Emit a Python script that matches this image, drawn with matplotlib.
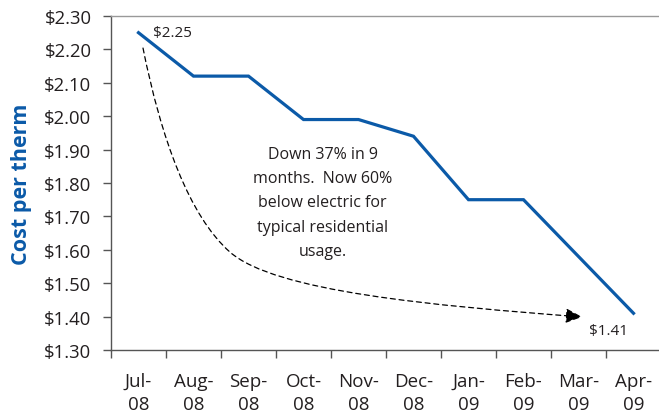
import matplotlib
matplotlib.use("Agg")
import matplotlib.pyplot as plt
from matplotlib.patches import FancyArrowPatch
from matplotlib.path import Path

months = ["Jul-\n08", "Aug-\n08", "Sep-\n08", "Oct-\n08", "Nov-\n08",
          "Dec-\n08", "Jan-\n09", "Feb-\n09", "Mar-\n09", "Apr-\n09"]
cost = [2.25, 2.12, 2.12, 1.99, 1.99, 1.94, 1.75, 1.75, 1.58, 1.41]
yticks = [1.30, 1.40, 1.50, 1.60, 1.70, 1.80, 1.90, 2.00, 2.10, 2.20, 2.30]
note = "Down 37% in 9\nmonths.  Now 60%\nbelow electric for\ntypical residential\nusage."

plt.rcParams['font.family'] = ['Open Sans', 'DejaVu Sans']
W, H = 659, 414
fig = plt.figure(figsize=(W/100, H/100), dpi=100)
ax = fig.add_axes([111/W, 1-351/H, 550/W, 334/H])

x = list(range(len(cost)))
ax.plot(x, cost, color="#0b5aa8", lw=2.3, solid_joinstyle="miter")
ax.set_xlim(-0.5, len(cost)-0.5)
ax.set_ylim(1.30, 2.30)
ax.set_yticks(yticks)
ax.set_yticklabels([f"${v:.2f}" for v in yticks], fontsize=13.3, color="#231f20")
ax.set_xticks(x)
ax.set_xticklabels(months, fontsize=13.5, color="#231f20", linespacing=1.32)
ax.set_xticks([i-0.5 for i in range(len(cost)+1)], minor=True)
ax.tick_params(axis="x", which="major", length=0, pad=16)
ax.tick_params(axis="x", which="minor", length=6, width=1, color="#555555")
ax.tick_params(axis="y", length=6, width=1, color="#555555", pad=8)

for s in ["left", "bottom"]:
    ax.spines[s].set_color("#555555")
    ax.spines[s].set_linewidth(1)
ax.spines["top"].set_color("#999999")
ax.spines["top"].set_linewidth(1)
ax.spines["right"].set_visible(False)

ax.set_ylabel("Cost per therm", fontsize=15.5, fontweight="bold", color="#0b5aa8", labelpad=9)

ax.text(0.26, 2.252, f"${cost[0]:.2f}", fontsize=11, color="#231f20", va="center", ha="left")
ax.text(8.55, 1.357, f"${cost[-1]:.2f}", fontsize=11, color="#231f20", va="center", ha="center")
ax.text(3.35, 1.742, note, fontsize=11.5, color="#231f20", ha="center", va="center", linespacing=1.68)

verts = [(0.082, 2.204), (0.409, 1.935), (0.915, 1.702), (1.664, 1.593),
         (2.482, 1.475), (5.336, 1.433), (8.064, 1.399)]
codes = [Path.MOVETO] + [Path.CURVE4] * 6
arr = FancyArrowPatch(path=Path(verts, codes), arrowstyle="-|>,head_length=10,head_width=4.5",
                      color="black", lw=0.9, linestyle=(0, (4, 3)), mutation_scale=1)
ax.add_patch(arr)

fig.savefig("out.png", dpi=100)
